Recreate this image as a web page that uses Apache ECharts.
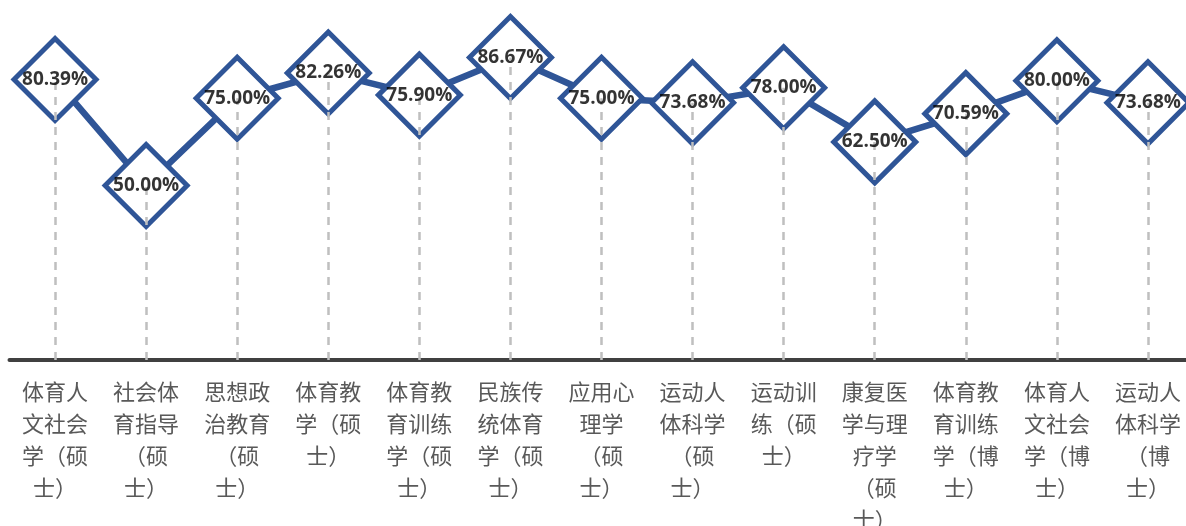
<!DOCTYPE html>
<html>
<head>
<meta charset="utf-8">
<script src="https://cdn.jsdelivr.net/npm/echarts@6/dist/echarts.min.js"></script>
<style>html,body{margin:0;padding:0;background:#fff}#c{width:1186px;height:526px}</style>
</head>
<body>
<div id="c"></div>
<script>
const categories = [
  '体育人\n文社会\n学（硕\n士）',
  '社会体\n育指导\n（硕\n士）',
  '思想政\n治教育\n（硕\n士）',
  '体育教\n学（硕\n士）',
  '体育教\n育训练\n学（硕\n士）',
  '民族传\n统体育\n学（硕\n士）',
  '应用心\n理学\n（硕\n士）',
  '运动人\n体科学\n（硕\n士）',
  '运动训\n练（硕\n士）',
  '康复医\n学与理\n疗学\n（硕\n士）',
  '体育教\n育训练\n学（博\n士）',
  '体育人\n文社会\n学（博\n士）',
  '运动人\n体科学\n（博\n士）'
];
const rates = [80.39, 50.00, 75.00, 82.26, 75.90, 86.67, 75.00, 73.68, 78.00, 62.50, 70.59, 80.00, 73.68];

const blue = '#2F5597';
const chart = echarts.init(document.getElementById('c'), null, {renderer: 'canvas'});
chart.setOption({
  animation: false,
  grid: {left: 9.5, right: -7.5, top: 11, bottom: 166, containLabel: false, outerBoundsMode: 'none'},
  xAxis: {
    type: 'category',
    data: categories,
    boundaryGap: true,
    axisTick: {show: false},
    axisLine: {lineStyle: {color: '#404040', width: 4}},
    axisLabel: {
      interval: 0,
      margin: 16,
      color: '#595959',
      fontSize: 22,
      lineHeight: 32,
      fontFamily: 'Noto Sans CJK SC',
      align: 'center'
    }
  },
  yAxis: {type: 'value', min: 0, max: 100, show: false, splitLine: {show: false}},
  series: [
    {
      type: 'line',
      data: rates,
      z: 2,
      symbol: 'diamond',
      symbolSize: 82,
      lineStyle: {color: blue, width: 6.5},
      itemStyle: {color: '#fff', borderColor: blue, borderWidth: 5},
      label: {show: false},
      markLine: {
        silent: true,
        z: 3,
        symbol: ['none', 'arrow'],
        symbolSize: [0, 11],
        label: {show: false},
        lineStyle: {color: '#BFBFBF', width: 2.5, type: [8, 7]},
        data: rates.map((v, i) => [{coord: [i, 0]}, {coord: [i, v]}])
      }
    },
    {
      type: 'scatter',
      data: rates,
      z: 10,
      symbol: 'rect',
      symbolSize: 1,
      itemStyle: {color: 'rgba(0,0,0,0)'},
      label: {
        show: true,
        position: 'inside',
        formatter: p => p.value.toFixed(2) + '%',
        color: '#000',
        fontWeight: 'bold',
        fontSize: 19,
        fontFamily: 'Open Sans'
      }
    }
  ]
});
</script>
</body>
</html>
